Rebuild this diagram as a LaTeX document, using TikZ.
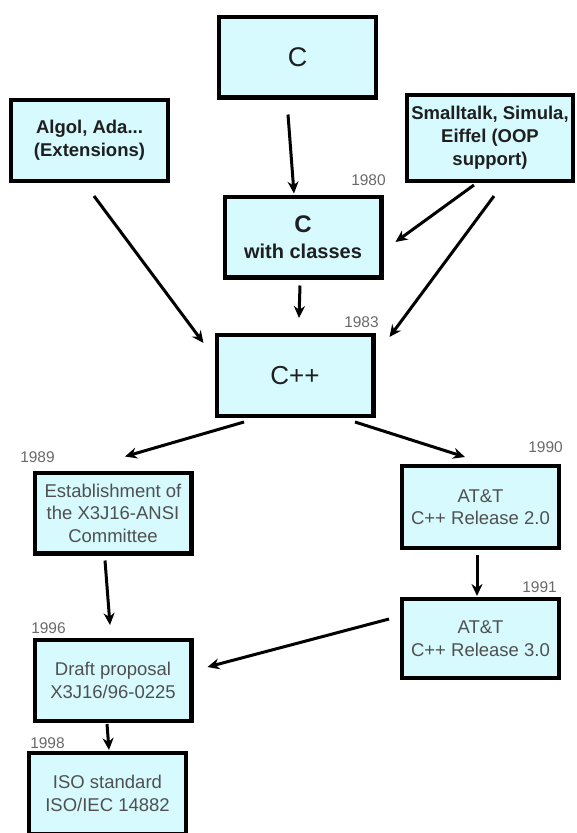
\documentclass[tikz,border=0pt]{standalone}
\usepackage{fontspec}
\setmainfont{Liberation Sans}
\usetikzlibrary{arrows.meta}
\definecolor{boxbg}{RGB}{214,250,254}
\definecolor{yeargray}{RGB}{105,105,105}
\definecolor{lowtext}{RGB}{80,80,80}
\tikzset{
  langbox/.style={draw=black, line width=4.3pt, fill=boxbg, align=center,
    minimum width=156.7pt, minimum height=80.7pt, inner sep=2pt},
  topbox/.style={langbox, text=black!88, font=\fontsize{18.5}{23}\selectfont\bfseries},
  lowbox/.style={langbox, text=lowtext, font=\fontsize{18.5}{22.5}\selectfont},
  yearlbl/.style={text=yeargray, font=\fontsize{15.5}{16}\selectfont, inner sep=0pt},
  arr/.style={line width=3pt, -{Stealth[length=12pt,width=11pt]}},
}
\begin{document}
\begin{tikzpicture}[x=1pt,y=-1pt]
  \useasboundingbox (0,0) rectangle (576,833);
  % languages at the top
  \node[topbox, font=\fontsize{27}{30}\selectfont] (c) at (297.5,57) {C};
  \node[topbox] (algol) at (89.5,140.5) {Algol, Ada...\\(Extensions)};
  \node[topbox, minimum width=165.7pt, minimum height=85.7pt] (smalltalk) at (490,138)
    {Smalltalk, Simula,\\Eiffel (OOP\\support)};
  \node[topbox, font=\fontsize{20}{26}\selectfont\bfseries] (cwc) at (303,237)
    {{\fontsize{24}{28}\selectfont C}\\with classes};
  \node[topbox, font=\fontsize{26}{30}\selectfont] (cpp) at (295,375.5) {C++};
  % standardisation
  \node[lowbox] (ansi) at (113,513) {Establishment of\\the X3J16-ANSI\\Committee};
  \node[lowbox, minimum height=81.7pt] (rel2) at (480.5,507) {AT\&T\\C++ Release 2.0};
  \node[lowbox, minimum height=78.7pt] (rel3) at (480.5,638.5) {AT\&T\\C++ Release 3.0};
  \node[lowbox] (draft) at (113,680.5) {Draft proposal\\X3J16/96-0225};
  \node[lowbox] (iso) at (107.5,793.5) {ISO standard\\ISO/IEC 14882};
  % years
  \node[yearlbl] (y1980) at (368.5,180) {1980};
  \node[yearlbl] (y1983) at (361.5,322) {1983};
  \node[yearlbl] (y1989) at (37.5,457) {1989};
  \node[yearlbl] (y1990) at (545.5,447) {1990};
  \node[yearlbl] (y1991) at (539.5,587) {1991};
  \node[yearlbl] (y1996) at (48.5,628) {1996};
  \node[yearlbl] (y1998) at (47.5,743) {1998};
  % arrows
  \draw[arr] ([xshift=-9.5pt,yshift=-15pt]c.south) -- ([xshift=-9pt,yshift=1pt]cwc.north);
  \draw[arr] ([xshift=-16pt,yshift=-2pt]smalltalk.south) -- ([xshift=12pt,yshift=-5pt]cwc.east);
  \draw[arr] ([xshift=4pt,yshift=-13pt]smalltalk.south) -- ([xshift=14pt,yshift=-4pt]cpp.north east);
  \draw[arr] ([xshift=4.5pt,yshift=-13pt]algol.south) -- ([xshift=-11pt,yshift=-10pt]cpp.north west);
  \draw[arr] ([xshift=-3pt,yshift=-6pt]cwc.south) -- ([xshift=4pt,yshift=15pt]cpp.north);
  \draw[arr] ([xshift=-51pt,yshift=-4pt]cpp.south) -- ([xshift=12pt,yshift=14pt]ansi.north);
  \draw[arr] ([xshift=60pt,yshift=-4pt]cpp.south) -- ([xshift=-15.5pt,yshift=7pt]rel2.north);
  \draw[arr] ([xshift=-8pt,yshift=-5pt]ansi.south) -- ([xshift=-3pt,yshift=13pt]draft.north);
  \draw[arr] ([xshift=-3.5pt,yshift=-5pt]rel2.south) -- ([xshift=-3.5pt,yshift=1pt]rel3.north);
  \draw[arr] ([xshift=-11pt,yshift=19.5pt]rel3.west) -- ([xshift=14pt,yshift=13.5pt]draft.east);
  \draw[arr] ([xshift=-6pt,yshift=-1pt]draft.south) -- ([xshift=1.5pt,yshift=1pt]iso.north);
\end{tikzpicture}
\end{document}
